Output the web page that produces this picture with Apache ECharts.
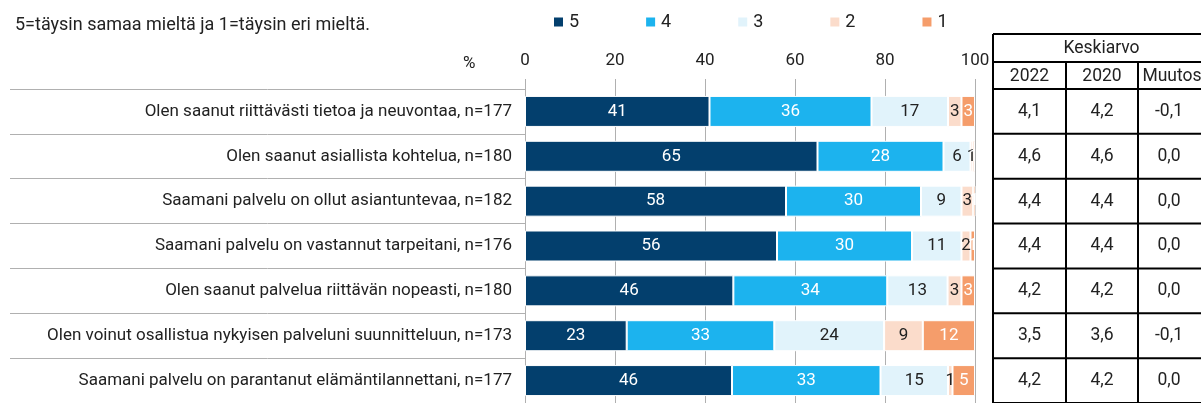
<!DOCTYPE html>
<html>
<head>
<meta charset="utf-8">
<script src="https://cdn.jsdelivr.net/npm/echarts@6/dist/echarts.min.js"></script>
<style>
  html, body { margin: 0; padding: 0; background: #fff; }
  #chart { width: 1201px; height: 403px; }
</style>
</head>
<body>
<div id="chart"></div>
<script>
var categories = [
  'Olen saanut riittävästi tietoa ja neuvontaa, n=177',
  'Olen saanut asiallista kohtelua, n=180',
  'Saamani palvelu on ollut asiantuntevaa, n=182',
  'Saamani palvelu on vastannut tarpeitani, n=176',
  'Olen saanut palvelua riittävän nopeasti, n=180',
  'Olen voinut osallistua nykyisen palveluni suunnitteluun, n=173',
  'Saamani palvelu on parantanut elämäntilannettani, n=177'
];
var seriesNames = ['5', '4', '3', '2', '1'];
var v5 = [41, 65, 58, 56, 46.3, 22.6, 46];
var v4 = [36, 28, 30, 30, 34.2, 32.8, 33];
var v3 = [17, 6, 9, 11, 13.4, 24.4, 15];
var v2 = [3, 0.5, 2.6, 2, 3.1, 8.6, 1];
var v1 = [3, 0.5, 0.5, 1, 3.0, 11.6, 5];
var xTicks = [0, 20, 40, 60, 80, 100];

var avg2022 = ['4,1', '4,6', '4,4', '4,4', '4,2', '3,5', '4,2'];
var avg2020 = ['4,2', '4,6', '4,4', '4,4', '4,2', '3,6', '4,2'];
var change = ['-0,1', '0,0', '0,0', '0,0', '0,0', '-0,1', '0,0'];

var colors = ['#033f6d', '#1cb3ee', '#e1f3fb', '#fbdccb', '#f59d6b'];
var labelColors = ['#fff', '#fff', '#222', '#222', '#fff'];
var FONT = 'Roboto';

var chart = echarts.init(document.getElementById('chart'));

var values = [v5, v4, v3, v2, v1];
var series = values.map(function (vals, i) {
  return {
    name: seriesNames[i],
    type: 'bar',
    stack: 'all',
    barWidth: 31,
    data: vals,
    itemStyle: { color: colors[i], borderColor: '#fff', borderWidth: 1 },
    label: {
      show: true,
      position: 'inside',
      color: labelColors[i],
      fontFamily: FONT,
      fontSize: 17,
      formatter: function (p) { return Math.round(p.value); }
    }
  };
});

chart.setOption({
  animation: false,
  textStyle: { fontFamily: FONT },
  title: [
    { text: '5=täysin samaa mieltä ja 1=täysin eri mieltä.', left: 10, top: 11,
      textStyle: { fontFamily: FONT, fontSize: 18, fontWeight: 'normal', color: '#222' } },
    { text: '%', left: 458, top: 50,
      textStyle: { fontFamily: FONT, fontSize: 17, fontWeight: 'normal', color: '#222' } }
  ],
  legend: {
    data: seriesNames,
    left: 547, top: 8,
    icon: 'rect',
    itemWidth: 11, itemHeight: 11,
    itemGap: 65,
    textStyle: { fontFamily: FONT, fontSize: 18, color: '#222' }
  },
  grid: { left: 525, top: 89, width: 450, height: 322, containLabel: false },
  xAxis: {
    type: 'value',
    position: 'top',
    min: xTicks[0], max: xTicks[xTicks.length - 1], interval: 20,
    axisLine: { show: false },
    axisTick: { show: true, length: 10, lineStyle: { color: '#b0b0b0' } },
    axisLabel: { margin: 20, fontFamily: FONT, fontSize: 17, color: '#222' },
    splitLine: { show: true, lineStyle: { color: '#b0b0b0' } }
  },
  yAxis: {
    type: 'category',
    inverse: true,
    data: categories,
    axisLine: { show: true, lineStyle: { color: '#b0b0b0' } },
    axisTick: { show: true, length: 515, lineStyle: { color: '#b0b0b0' } },
    axisLabel: { margin: 13, fontFamily: FONT, fontSize: 17, color: '#222' }
  },
  series: series
});

// keskiarvotaulukko oikealle, rivit kategoria-akselin mukaan
function drawTable() {
  var cols = [993, 1066, 1138, 1212];
  var c0 = chart.convertToPixel({ yAxisIndex: 0 }, categories[0]);
  var c1 = chart.convertToPixel({ yAxisIndex: 0 }, categories[1]);
  var band = c1 - c0;
  var rowTop = c0 - band / 2;
  var headTop = 34, headMid = 62;
  var bottom = rowTop + band * categories.length;
  var lineStyle = { stroke: '#000', lineWidth: 2 };
  var els = [];
  var txt = function (x, y, s) {
    els.push({ type: 'text', x: x, y: y,
      style: { text: s, fill: '#222', fontFamily: FONT, fontSize: 17.5, align: 'center', verticalAlign: 'middle' } });
  };
  var hline = function (x1, x2, y) {
    els.push({ type: 'line', shape: { x1: x1, y1: y, x2: x2, y2: y }, style: lineStyle });
  };
  var vline = function (x, y1, y2) {
    els.push({ type: 'line', shape: { x1: x, y1: y1, x2: x, y2: y2 }, style: lineStyle });
  };
  els.push({ type: 'rect', shape: { x: cols[0], y: headTop, width: cols[3] - cols[0], height: bottom - headTop },
    style: { fill: '#fff' } });
  hline(cols[0], cols[3], headTop);
  hline(cols[0], cols[3], headMid);
  vline(cols[0], headTop, bottom);
  vline(cols[1], headMid, bottom);
  vline(cols[2], headMid, bottom);
  txt((cols[0] + cols[3]) / 2 - 1, (headTop + headMid) / 2 + 1, 'Keskiarvo');
  txt((cols[0] + cols[1]) / 2, (headMid + rowTop) / 2 + 1, '2022');
  txt((cols[1] + cols[2]) / 2, (headMid + rowTop) / 2 + 1, '2020');
  txt((cols[2] + cols[3]) / 2 - 3, (headMid + rowTop) / 2 + 1, 'Muutos');
  for (var i = 0; i <= categories.length; i++) {
    hline(cols[0], cols[3], rowTop + band * i);
  }
  categories.forEach(function (c, i) {
    var y = chart.convertToPixel({ yAxisIndex: 0 }, c);
    txt((cols[0] + cols[1]) / 2, y, avg2022[i]);
    txt((cols[1] + cols[2]) / 2, y, avg2020[i]);
    txt((cols[2] + cols[3]) / 2 - 6, y, change[i]);
  });
  chart.setOption({ graphic: els });
}
drawTable();
</script>
</body>
</html>
